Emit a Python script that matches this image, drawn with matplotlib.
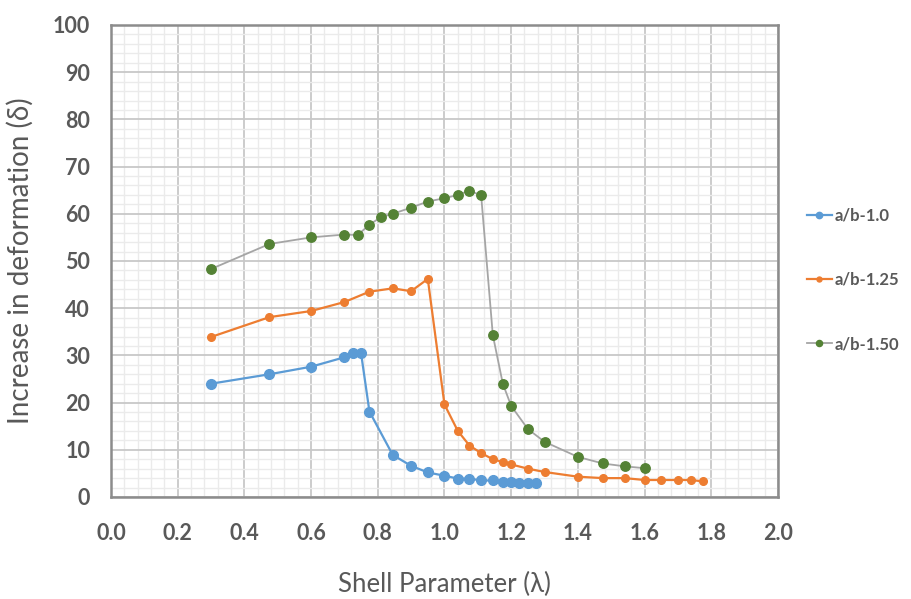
import matplotlib.pyplot as plt
from matplotlib.ticker import MultipleLocator

# Data
lam_10 = [0.3, 0.475, 0.6, 0.7, 0.725, 0.75, 0.775, 0.845, 0.9, 0.95, 1.0,
          1.04, 1.075, 1.11, 1.145, 1.175, 1.2, 1.225, 1.25, 1.275]
def_10 = [24.0, 26.0, 27.6, 29.6, 30.4, 30.4, 18.1, 8.9, 6.6, 5.2, 4.5,
          3.9, 3.9, 3.5, 3.5, 3.2, 3.2, 2.9, 2.9, 2.9]

lam_125 = [0.3, 0.475, 0.6, 0.7, 0.775, 0.845, 0.9, 0.95, 1.0, 1.04, 1.075,
           1.11, 1.145, 1.175, 1.2, 1.25, 1.3, 1.4, 1.475, 1.54, 1.6, 1.65,
           1.7, 1.74, 1.775]
def_125 = [33.9, 38.1, 39.4, 41.3, 43.5, 44.2, 43.6, 46.2, 19.6, 14.0, 10.9,
           9.3, 8.0, 7.4, 6.9, 6.0, 5.3, 4.3, 4.0, 4.0, 3.6, 3.6, 3.6, 3.6,
           3.3]

lam_150 = [0.3, 0.475, 0.6, 0.7, 0.74, 0.775, 0.81, 0.845, 0.9, 0.95, 1.0,
           1.04, 1.075, 1.11, 1.145, 1.175, 1.2, 1.25, 1.3, 1.4, 1.475, 1.54,
           1.6]
def_150 = [48.3, 53.6, 55.0, 55.6, 55.5, 57.7, 59.3, 60.0, 61.3, 62.6, 63.3,
           64.0, 64.9, 63.9, 34.3, 24.0, 19.3, 14.4, 11.7, 8.5, 7.1, 6.5, 6.1]

fig = plt.figure(figsize=(9.12, 5.99), dpi=100)
ax = fig.add_axes([0.1217, 0.1703, 0.7313, 0.788])

ax.plot(lam_10, def_10, color="#5B9BD5", lw=1.6, marker="o", ms=7,
        label="a/b-1.0", zorder=5)
ax.plot(lam_125, def_125, color="#ED7D31", lw=1.6, marker="o", ms=5.5,
        label="a/b-1.25", zorder=5)
ax.plot(lam_150, def_150, color="#A5A5A5", lw=1.3, marker="o", ms=6.8,
        mfc="#548235", mec="#548235", label="a/b-1.50", zorder=5)

ax.set_xlim(0, 2.0)
ax.set_ylim(0, 100)
ax.xaxis.set_major_locator(MultipleLocator(0.2))
ax.xaxis.set_minor_locator(MultipleLocator(0.04))
ax.yaxis.set_major_locator(MultipleLocator(10))
ax.yaxis.set_minor_locator(MultipleLocator(2))
ax.xaxis.set_major_formatter(lambda v, p: f"{v:.1f}")

ax.grid(which="major", color="#C8C8C8", lw=1.3, zorder=1)
ax.grid(which="minor", color="#EBEBEB", lw=1.0, zorder=0)
ax.set_axisbelow(True)
ax.tick_params(axis="x", which="both", length=0, pad=19)
ax.tick_params(axis="y", which="both", length=0, pad=15)

for s in ax.spines.values():
    s.set_color("#8C8C8C")
    s.set_linewidth(1.8)

for t in ax.get_xticklabels() + ax.get_yticklabels():
    t.set_fontfamily("Lato")
    t.set_fontweight("bold")
    t.set_fontsize(15.5)
    t.set_color("#595959")

ax.set_xlabel("Shell Parameter (λ)", family="Lato", fontsize=18.5,
              color="#595959", labelpad=20)
ax.set_ylabel("Increase in deformation (δ)", family="Lato", fontsize=20,
              color="#595959", labelpad=14)

leg = ax.legend(loc="center left", bbox_to_anchor=(1.043, 0.46),
                frameon=False, labelspacing=2.9, handlelength=1.5,
                handletextpad=0.2, markerscale=0.65, borderpad=0,
                borderaxespad=0,
                prop=dict(family="Lato", weight="bold", size=12))
for t in leg.get_texts():
    t.set_color("#595959")

fig.savefig("out.png", dpi=100)
